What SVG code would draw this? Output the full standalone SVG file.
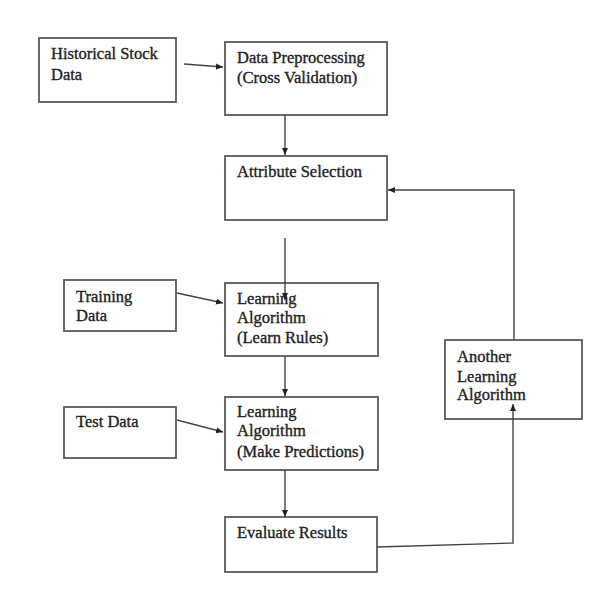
<svg xmlns="http://www.w3.org/2000/svg" width="603" height="589" viewBox="0 0 603 589">
<style>
.box{fill:#fff;stroke:#5a5a5a;stroke-width:1.8}
.t{font-family:"Liberation Serif",serif;font-size:16.5px;fill:#222;stroke:#222;stroke-width:0.35}
.c{fill:none;stroke:#444;stroke-width:1.4}
</style>
<defs>
<marker id="ah" markerWidth="8" markerHeight="8" refX="7" refY="4" orient="auto" markerUnits="userSpaceOnUse">
<path d="M0,1 L7,4 L0,7 Z" fill="#222"/>
</marker>
</defs>
<rect width="603" height="589" fill="#fff"/>
<g id="historical"><rect class="box" x="39" y="38" width="137" height="64"/><text class="t" x="51" y="59">Historical Stock</text><text class="t" x="51" y="80">Data</text></g>
<g id="preprocessing"><rect class="box" x="225" y="42" width="162" height="73"/><text class="t" x="237" y="63">Data Preprocessing</text><text class="t" x="237" y="83">(Cross Validation)</text></g>
<g id="attribute"><rect class="box" x="225" y="156" width="162" height="64"/><text class="t" x="237" y="177">Attribute Selection</text></g>
<g id="training"><rect class="box" x="64" y="280" width="112" height="51"/><text class="t" x="76" y="302">Training</text><text class="t" x="76" y="321">Data</text></g>
<g id="learn"><rect class="box" x="225" y="283" width="153" height="73"/><text class="t" x="237" y="304">Learning</text><text class="t" x="237" y="323">Algorithm</text><text class="t" x="237" y="343">(Learn Rules)</text></g>
<g id="test"><rect class="box" x="64" y="407" width="112" height="51"/><text class="t" x="76" y="427">Test Data</text></g>
<g id="predict"><rect class="box" x="225" y="397" width="153" height="73"/><text class="t" x="237" y="417">Learning</text><text class="t" x="237" y="436">Algorithm</text><text class="t" x="237" y="457">(Make Predictions)</text></g>
<g id="evaluate"><rect class="box" x="225" y="517" width="152" height="55"/><text class="t" x="237" y="538">Evaluate Results</text></g>
<g id="another"><rect class="box" x="445" y="340" width="137" height="79"/><text class="t" x="457" y="362">Another</text><text class="t" x="457" y="382">Learning</text><text class="t" x="457" y="400">Algorithm</text></g>
<g id="connectors">
<path class="c" d="M184,64 L223,67" marker-end="url(#ah)"/>
<path class="c" d="M285,115 L285,155" marker-end="url(#ah)"/>
<path class="c" d="M285,238 L285,300" marker-end="url(#ah)"/>
<path class="c" d="M177,293 L223,303" marker-end="url(#ah)"/>
<path class="c" d="M285,356 L285,396" marker-end="url(#ah)"/>
<path class="c" d="M177,420 L223,432" marker-end="url(#ah)"/>
<path class="c" d="M285,470 L285,517" marker-end="url(#ah)"/>
<path class="c" d="M377,547 L513,543 L513,404" marker-end="url(#ah)"/>
<path class="c" d="M514,340 L514,190 L388,190" marker-end="url(#ah)"/>
</g>
</svg>
